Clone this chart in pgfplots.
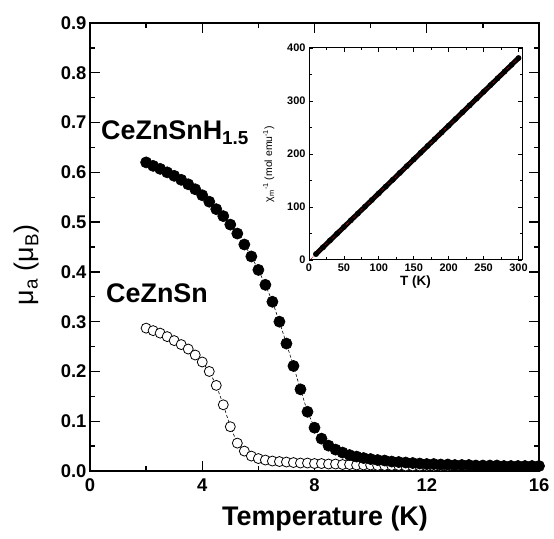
\documentclass[border=0pt]{standalone}
\usepackage{fontspec}
\setmainfont{Liberation Sans}
\usepackage{pgfplots}
\pgfplotsset{compat=1.18}
\begin{document}
\begin{tikzpicture}
\begin{axis}[
  at={(0,0)}, anchor=south west,
  scale only axis, width=449bp, height=448bp,
  xmin=0, xmax=16, ymin=0, ymax=0.9,
  xtick={0,4,8,12,16}, minor xtick={2,6,10,14},
  ytick={0,0.1,0.2,0.3,0.4,0.5,0.6,0.7,0.8,0.9},
  minor ytick={0.05,0.15,0.25,0.35,0.45,0.55,0.65,0.75,0.85},
  yticklabel style={/pgf/number format/.cd, fixed, fixed zerofill, precision=1},
  /pgf/number format/assume math mode=true,
  tick label style={font=\fontsize{18.5}{20}\selectfont\bfseries},
  xticklabel shift=4bp,
  tick align=inside, major tick length=10bp, minor tick length=5bp,
  axis line style={line width=1.8bp},
  every tick/.style={black, line width=1.3bp},
  clip=false,
]
\addplot[black, line width=0.6bp, dash pattern=on 3bp off 2bp, mark=*, mark size=5bp,
  mark options={solid, fill=white, draw=black, line width=0.8bp}] coordinates {
(2.00,0.287)(2.25,0.282)(2.50,0.277)(2.75,0.270)(3.00,0.262)(3.25,0.254)(3.50,0.245)
(3.75,0.233)(4.00,0.219)(4.25,0.200)(4.50,0.172)(4.75,0.133)(5.00,0.089)(5.25,0.056)
(5.50,0.040)(5.75,0.030)(6.00,0.025)(6.25,0.022)(6.50,0.020)(6.75,0.019)(7.00,0.018)
(7.25,0.017)(7.50,0.016)(7.75,0.016)(8.00,0.015)(8.25,0.015)(8.50,0.014)(8.75,0.014)
(9.00,0.013)(9.25,0.013)(9.50,0.012)(9.75,0.012)(10.00,0.012)(10.25,0.011)(10.50,0.011)
(10.75,0.011)(11.00,0.011)(11.25,0.010)(11.50,0.010)(11.75,0.010)(12.00,0.010)
(12.25,0.010)(12.50,0.010)(12.75,0.010)
};
\addplot[black, line width=0.6bp, dash pattern=on 3bp off 2bp, mark=*, mark size=5.6bp,
  mark options={solid, fill=black, draw=black}] coordinates {
(2.00,0.620)(2.25,0.613)(2.50,0.607)(2.75,0.600)(3.00,0.593)(3.25,0.585)(3.50,0.576)
(3.75,0.566)(4.00,0.554)(4.25,0.541)(4.50,0.526)(4.75,0.512)(5.00,0.495)(5.25,0.477)
(5.50,0.455)(5.75,0.431)(6.00,0.404)(6.25,0.374)(6.50,0.340)(6.75,0.300)(7.00,0.256)
(7.25,0.211)(7.50,0.164)(7.75,0.119)(8.00,0.087)(8.25,0.065)(8.50,0.051)(8.75,0.043)
(9.00,0.037)(9.25,0.032)(9.50,0.029)(9.75,0.026)(10.00,0.024)(10.25,0.022)(10.50,0.021)
(10.75,0.019)(11.00,0.018)(11.25,0.017)(11.50,0.016)(11.75,0.015)(12.00,0.014)
(12.25,0.014)(12.50,0.013)(12.75,0.013)(13.00,0.012)(13.25,0.012)(13.50,0.012)
(13.75,0.011)(14.00,0.011)(14.25,0.011)(14.50,0.011)(14.75,0.010)(15.00,0.010)
(15.25,0.010)(15.50,0.010)(15.75,0.010)(16.00,0.010)
};
\end{axis}
% labels of the main axis
\node[font=\fontsize{27}{29}\selectfont\bfseries] at (235bp,-48bp) {Temperature (K)};
\node[font=\fontsize{27}{29}\selectfont, rotate=90] at (-63bp,206bp) {μ\textsubscript{a} (μ\textsubscript{B})};
\node[font=\fontsize{27}{29}\selectfont\bfseries, anchor=base west, inner sep=0pt] at (11bp,331bp) {CeZnSnH\textsubscript{1.5}};
\node[font=\fontsize{27}{29}\selectfont\bfseries, anchor=base west, inner sep=0pt] at (16bp,168bp) {CeZnSn};
% inset
\begin{axis}[
  at={(219bp,211bp)}, anchor=south west,
  scale only axis, width=213bp, height=212bp,
  xmin=0, xmax=305, ymin=0, ymax=400,
  xtick={0,50,100,150,200,250,300}, minor xtick={25,75,125,175,225,275},
  ytick={0,100,200,300,400}, minor ytick={50,150,250,350},
  /pgf/number format/assume math mode=true,
  tick label style={font=\fontsize{11}{12}\selectfont\bfseries},
  tick align=inside, major tick length=4bp, minor tick length=2.5bp,
  axis line style={line width=1bp},
  every tick/.style={black, line width=0.8bp},
  axis background/.style={fill=white},
  xlabel={T (K)},
  xlabel style={font=\fontsize{13.5}{15}\selectfont\bfseries, yshift=2bp},
  ylabel={χ\textsubscript{m}\textsuperscript{-1} (mol emu\textsuperscript{-1})},
  ylabel style={font=\fontsize{10.5}{12}\selectfont, yshift=6bp, xshift=-10bp},
]
\addplot[black, line width=5bp, line cap=round, mark=*, mark size=2.7bp,
  mark options={line width=0.3bp}] coordinates {
(10,11.25)(20,24.0)(30,36.75)(40,49.5)(50,62.25)(60,75.0)(70,87.75)(80,100.5)
(90,113.25)(100,126.0)(110,138.75)(120,151.5)(130,164.25)(140,177.0)(150,189.75)
(160,202.5)(170,215.25)(180,228.0)(190,240.75)(200,253.5)(210,266.25)(220,279.0)
(230,291.75)(240,304.5)(250,317.25)(260,330.0)(270,342.75)(280,355.5)(290,368.25)
(300,381.0)
};
\addplot[red!80!black, densely dotted, line width=0.8bp] coordinates {(3,2.3) (303,384.8)};
\end{axis}
\pgfresetboundingbox
\path[use as bounding box] (-90bp,-68bp) rectangle (464bp,471bp);
\end{tikzpicture}
\end{document}
